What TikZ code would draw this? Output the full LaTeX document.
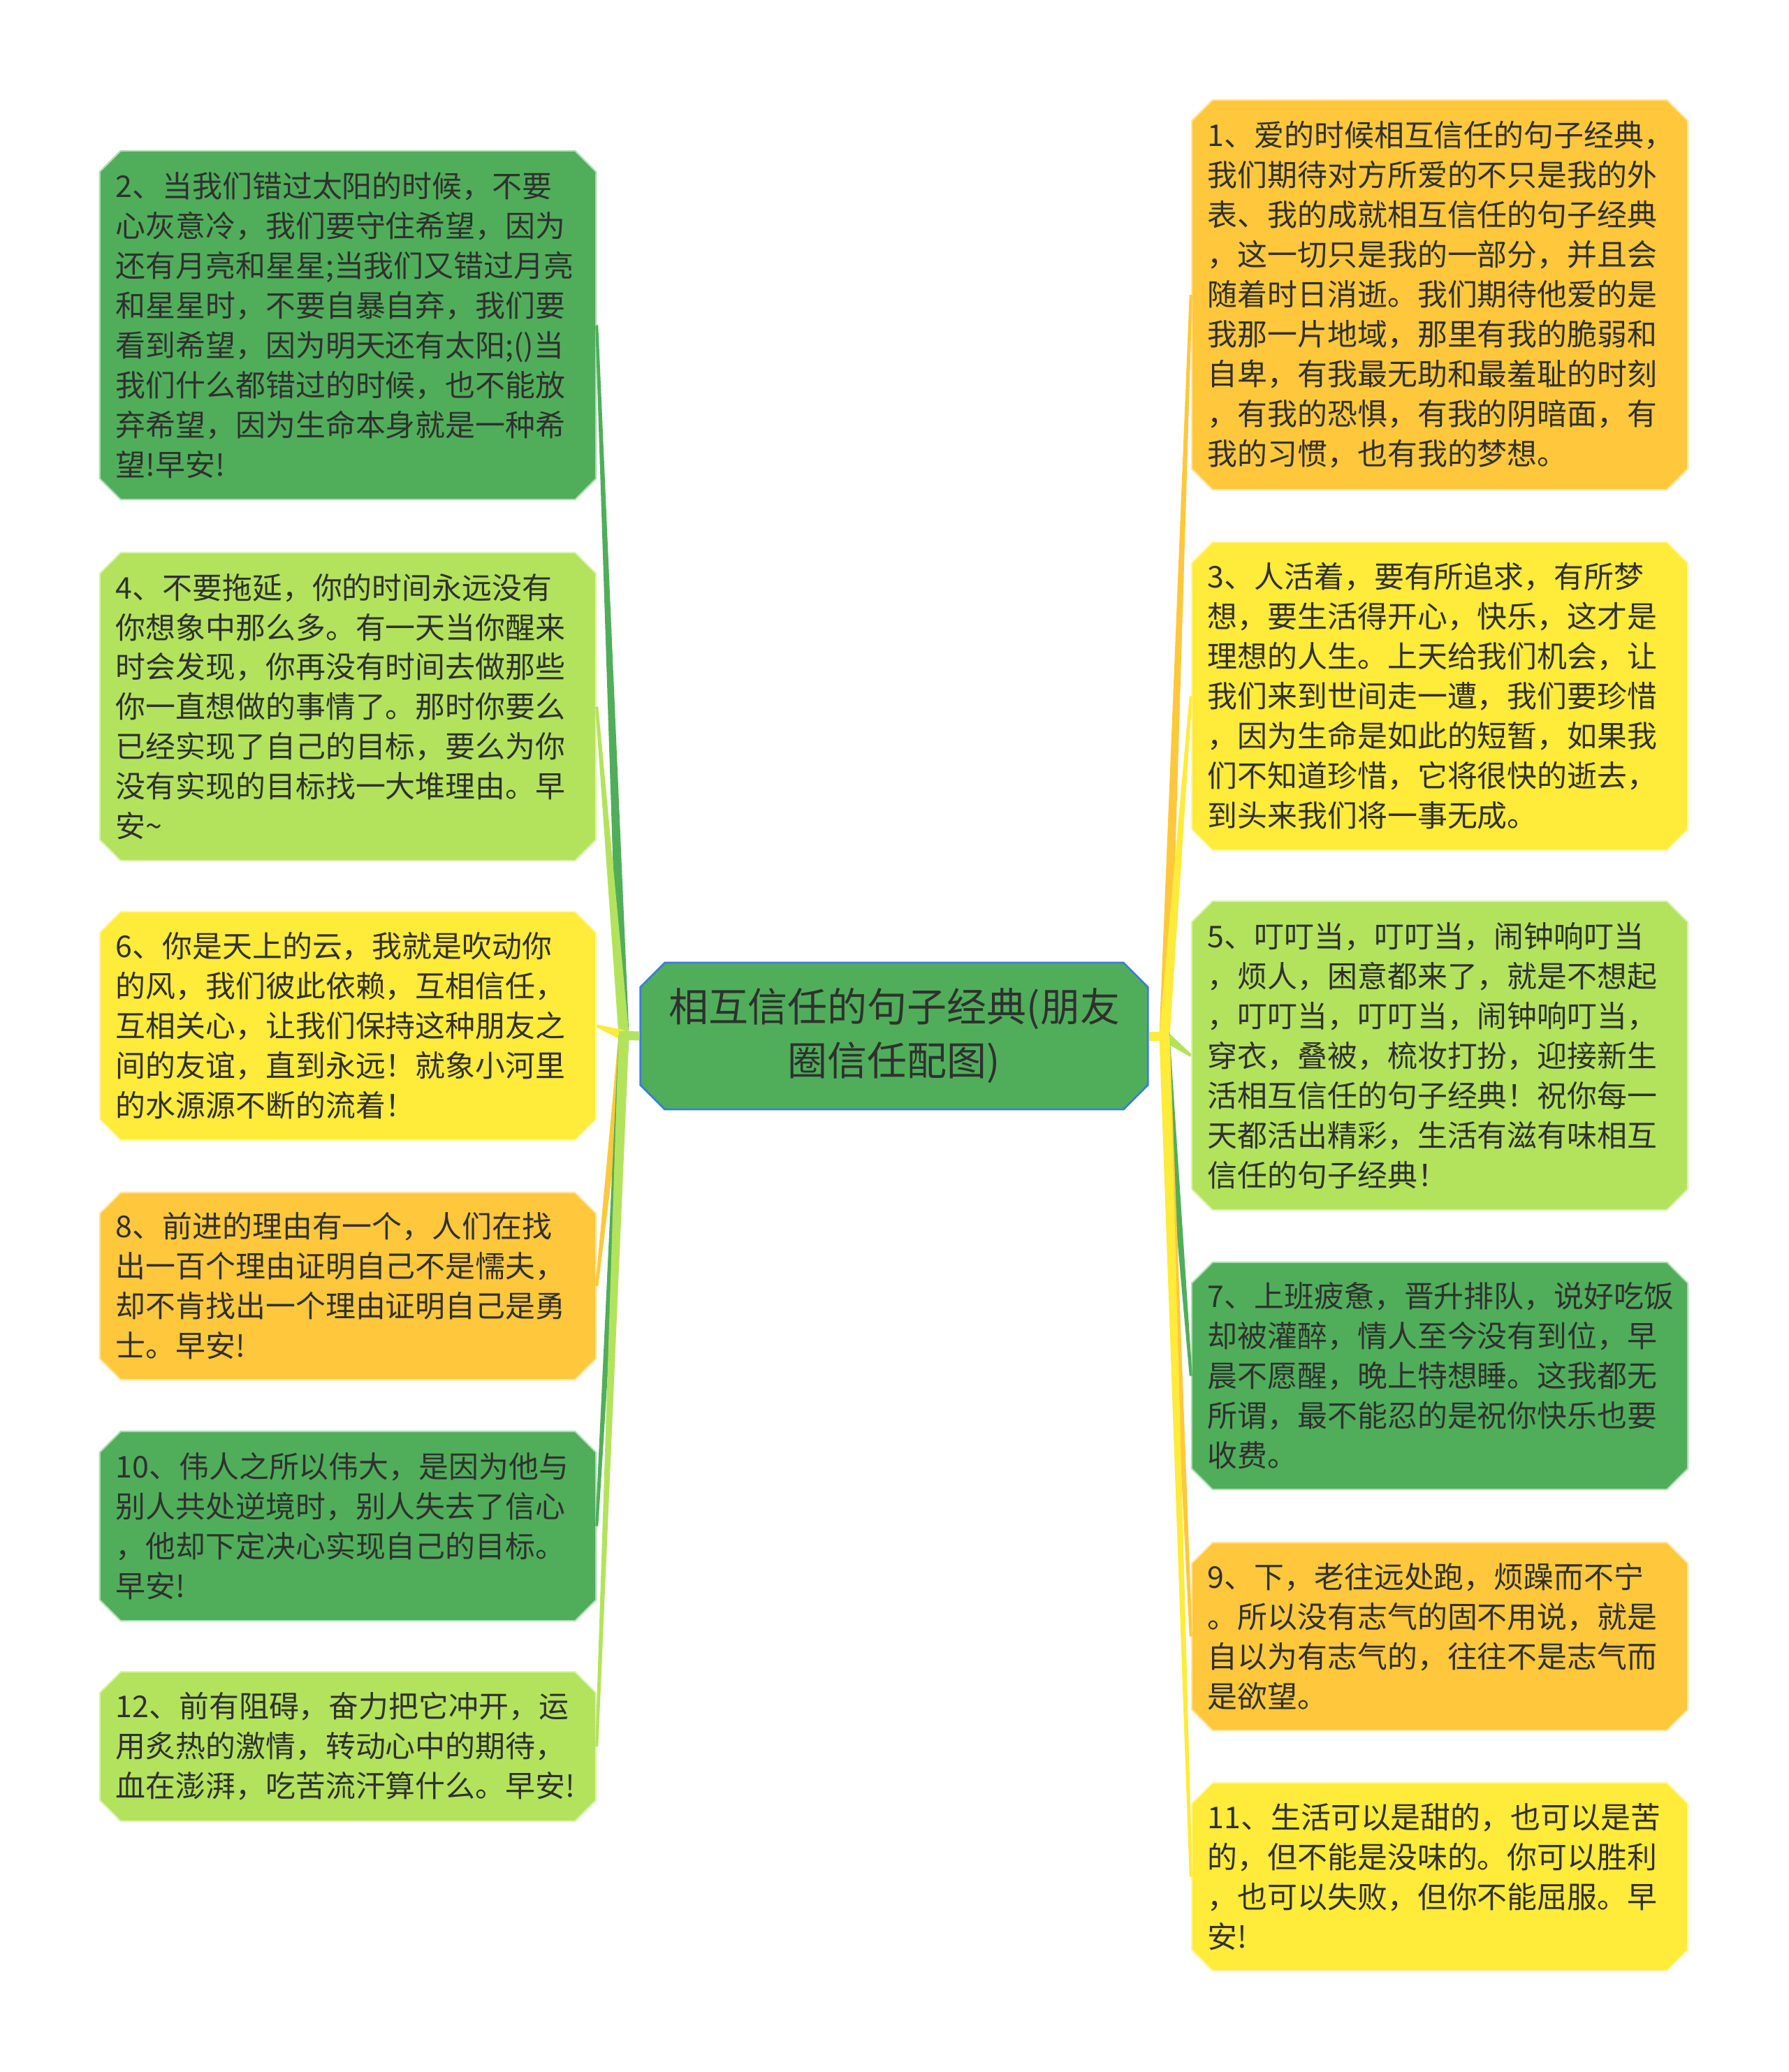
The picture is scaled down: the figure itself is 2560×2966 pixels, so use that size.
\documentclass[tikz,border=0pt]{standalone}
\usepackage{fontspec}
\setmainfont{Noto Sans CJK SC}
\usepackage{tikz}
\usetikzlibrary{shapes.misc, calc}
\usepackage{xcolor}

\definecolor{verdescuro}{HTML}{50AE5A}
\definecolor{verdechiaro}{HTML}{B3E35D}
\definecolor{giallo}{HTML}{FFEB3A}
\definecolor{arancio}{HTML}{FFC83C}
\definecolor{bordoblu}{HTML}{3B7DD8}
\definecolor{testo}{HTML}{303030}

\tikzset{
  radice/.style={chamfered rectangle, chamfered rectangle xsep=0.18cm, chamfered rectangle ysep=0.17cm,
    minimum width=7.26cm, minimum height=2.10cm, fill=verdescuro, draw=bordoblu, line width=0.8pt,
    align=center, text=testo, font=\fontsize{16.2pt}{21.9pt}\selectfont},
  foglia/.style={chamfered rectangle, chamfered rectangle xsep=0.15cm, chamfered rectangle ysep=0.15cm,
    minimum width=7.1cm, text width=6.64cm, inner xsep=0.08cm, inner ysep=0pt, align=left,
    text=testo, line width=0.6pt, font=\fontsize{12.2pt}{16.2pt}\selectfont},
  fverdescuro/.style={foglia, fill=verdescuro, draw=verdescuro!45!white},
  fverdechiaro/.style={foglia, fill=verdechiaro, draw=verdechiaro!45!white},
  fgiallo/.style={foglia, fill=giallo, draw=giallo!45!white},
  farancio/.style={foglia, fill=arancio, draw=arancio!45!white}
}

% ramo affusolato: colore, da, a
\newcommand{\ramo}[3]{%
  \fill[#1] ($(#2)!0.075cm!90:(#3)$) -- ($(#3)!0.02cm!-90:(#2)$)
    -- ($(#3)!0.02cm!90:(#2)$) -- ($(#2)!0.075cm!-90:(#3)$) -- cycle;}

\begin{document}
\begin{tikzpicture}[x=0.01cm, y=-0.01cm]
\useasboundingbox (0,0) rectangle (2560,2966);

% Nodo centrale
\node[radice] (radice) at (1280,1483) {相互信任的句子经典(朋友\\圈信任配图)};
\coordinate (nodosx) at (893,1482);
\coordinate (nododx) at (1667,1483);

% Foglie a sinistra
\node[fverdescuro, minimum height=4.99cm] (f2) at (498,465.5) {2、当我们错过太阳的时候，不要\\心灰意冷，我们要守住希望，因为\\还有月亮和星星;当我们又错过月亮\\和星星时，不要自暴自弃，我们要\\看到希望，因为明天还有太阳;()当\\我们什么都错过的时候，也不能放\\弃希望，因为生命本身就是一种希\\望!早安!};
\node[fverdechiaro, minimum height=4.41cm] (f4) at (498,1011.5) {4、不要拖延，你的时间永远没有\\你想象中那么多。有一天当你醒来\\时会发现，你再没有时间去做那些\\你一直想做的事情了。那时你要么\\已经实现了自己的目标，要么为你\\没有实现的目标找一大堆理由。早\\安\textasciitilde};
\node[fgiallo, minimum height=3.27cm] (f6) at (498,1468.5) {6、你是天上的云，我就是吹动你\\的风，我们彼此依赖，互相信任，\\互相关心，让我们保持这种朋友之\\间的友谊，直到永远！就象小河里\\的水源源不断的流着！};
\node[farancio, minimum height=2.68cm] (f8) at (498,1841) {8、前进的理由有一个，人们在找\\出一百个理由证明自己不是懦夫，\\却不肯找出一个理由证明自己是勇\\士。早安!};
\node[fverdescuro, minimum height=2.71cm] (f10) at (498,2184.5) {10、伟人之所以伟大，是因为他与\\别人共处逆境时，别人失去了信心\\，他却下定决心实现自己的目标。\\早安!};
\node[fverdechiaro, minimum height=2.14cm] (f12) at (498,2500) {12、前有阻碍，奋力把它冲开，运\\用炙热的激情，转动心中的期待，\\血在澎湃，吃苦流汗算什么。早安!};

% Foglie a destra
\node[farancio, minimum height=5.58cm] (f1) at (2061,422) {1、爱的时候相互信任的句子经典，\\我们期待对方所爱的不只是我的外\\表、我的成就相互信任的句子经典\\，这一切只是我的一部分，并且会\\随着时日消逝。我们期待他爱的是\\我那一片地域，那里有我的脆弱和\\自卑，有我最无助和最羞耻的时刻\\，有我的恐惧，有我的阴暗面，有\\我的习惯，也有我的梦想。};
\node[fgiallo, minimum height=4.41cm] (f3) at (2061,996.5) {3、人活着，要有所追求，有所梦\\想，要生活得开心，快乐，这才是\\理想的人生。上天给我们机会，让\\我们来到世间走一遭，我们要珍惜\\，因为生命是如此的短暂，如果我\\们不知道珍惜，它将很快的逝去，\\到头来我们将一事无成。};
\node[fverdechiaro, minimum height=4.42cm] (f5) at (2061,1511) {5、叮叮当，叮叮当，闹钟响叮当\\，烦人，困意都来了，就是不想起\\，叮叮当，叮叮当，闹钟响叮当，\\穿衣，叠被，梳妆打扮，迎接新生\\活相互信任的句子经典！祝你每一\\天都活出精彩，生活有滋有味相互\\信任的句子经典！};
\node[fverdescuro, minimum height=3.25cm] (f7) at (2061,1969.5) {7、上班疲惫，晋升排队，说好吃饭\\却被灌醉，情人至今没有到位，早\\晨不愿醒，晚上特想睡。这我都无\\所谓，最不能忍的是祝你快乐也要\\收费。};
\node[farancio, minimum height=2.69cm] (f9) at (2061,2342.5) {9、下，老往远处跑，烦躁而不宁\\。所以没有志气的固不用说，就是\\自以为有志气的，往往不是志气而\\是欲望。};
\node[fgiallo, minimum height=2.69cm] (f11) at (2061,2686.5) {11、生活可以是甜的，也可以是苦\\的，但不能是没味的。你可以胜利\\，也可以失败，但你不能屈服。早\\安!};

% Rami
\ramo{verdescuro}{nodosx}{f2.east}
\ramo{verdechiaro}{nodosx}{f4.east}
\ramo{giallo}{nodosx}{f6.east}
\ramo{arancio}{nodosx}{f8.east}
\ramo{verdescuro}{nodosx}{f10.east}
\ramo{verdechiaro}{nodosx}{f12.east}
\ramo{arancio}{nododx}{f1.west}
\ramo{giallo}{nododx}{f3.west}
\ramo{verdechiaro}{nododx}{f5.west}
\ramo{verdescuro}{nododx}{f7.west}
\ramo{arancio}{nododx}{f9.west}
\ramo{giallo}{nododx}{f11.west}
\draw[verdechiaro, line width=0.13cm] (radice.west) -- ($(nodosx)+(-7,0)$);
\draw[giallo, line width=0.13cm] (radice.east) -- ($(nododx)+(6,0)$);
\end{tikzpicture}
\end{document}
